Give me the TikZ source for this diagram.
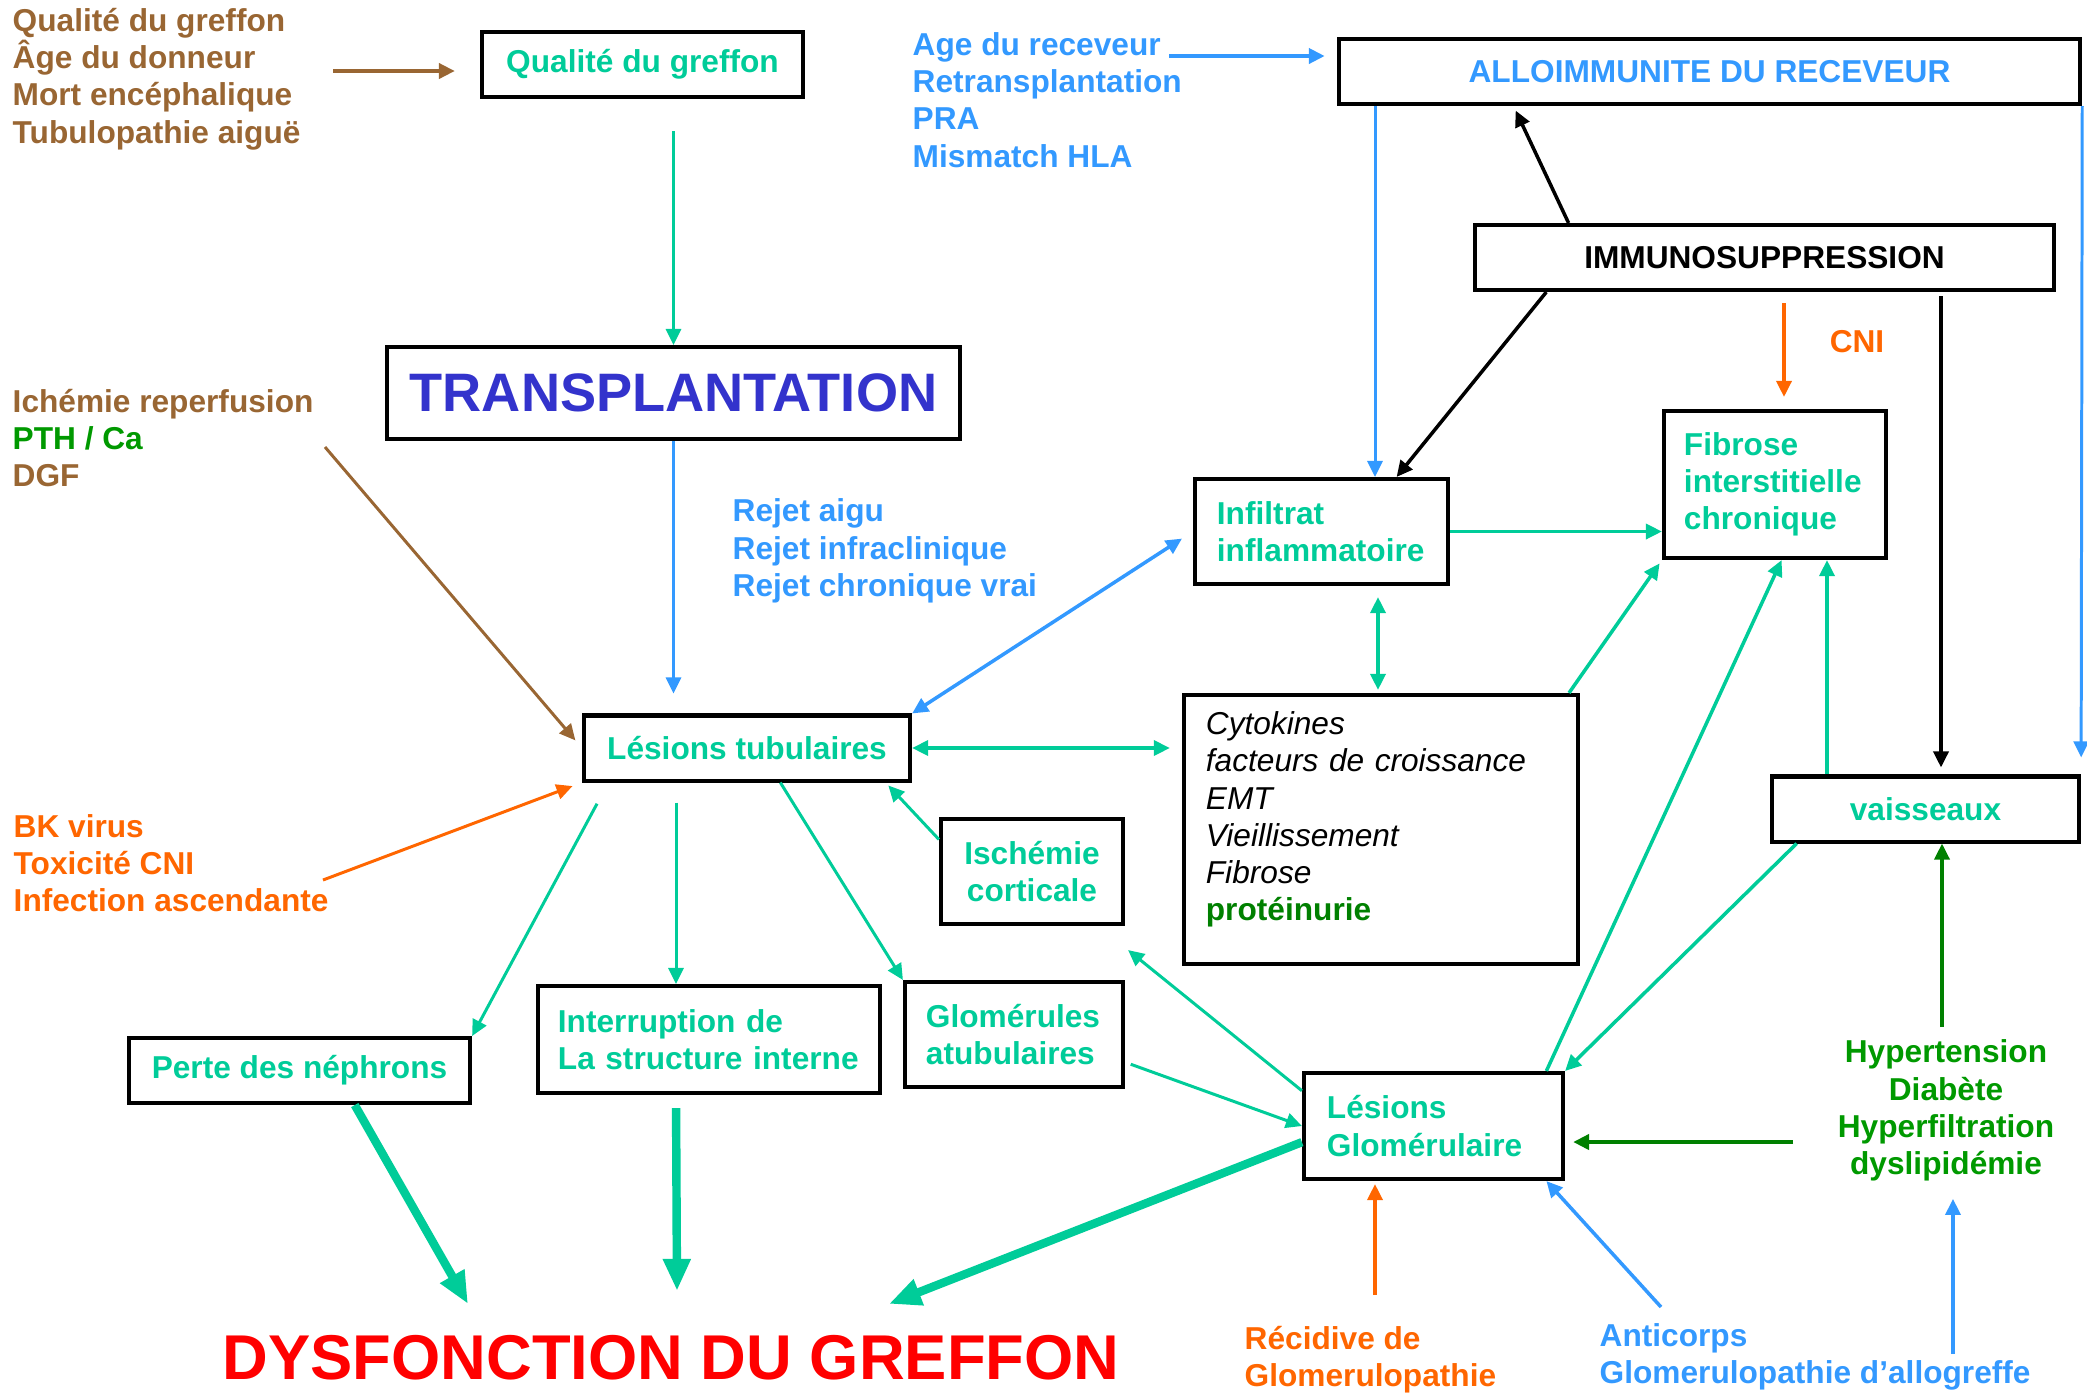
\documentclass[tikz,border=0pt]{standalone}
\usepackage{fontspec}
\setmainfont{Liberation Sans}
\usetikzlibrary{arrows.meta,calc}
\definecolor{turq}{HTML}{00CC99}
\definecolor{brun}{HTML}{996633}
\definecolor{bleu}{HTML}{3399FF}
\definecolor{orng}{HTML}{FF6600}
\definecolor{vert}{HTML}{009900}
\definecolor{vertf}{HTML}{008000}
\definecolor{indigo}{HTML}{3333CC}

\tikzset{
  txt/.style={inner sep=0pt, font=\fontsize{9}{10.6}\selectfont\bfseries},
  boite/.style={txt, draw, line width=1.15pt, minimum height=0.65cm, text=turq},
  gauche/.style={align=left, inner xsep=0.22cm, execute at begin node={\hyphenpenalty=10000}},
  fl/.style={line width=0.85pt, -{Triangle[length=0.16cm,width=0.15cm]}},
  dfl/.style={line width=0.85pt, {Triangle[length=0.16cm,width=0.15cm]}-{Triangle[length=0.16cm,width=0.15cm]}},
  gros/.style={line width=2.4pt, -{Triangle[length=0.32cm,width=0.26cm]}},
}

\begin{document}
\begin{tikzpicture}[x=0.01cm,y=-0.01cm]
\useasboundingbox (0,0) rectangle (2087,1393);

% les boites
\node[boite, minimum width=3.21cm] (qual) at (642.5,64.5) {Qualité du greffon};
\node[boite, minimum width=5.73cm, minimum height=0.92cm, text=indigo,
      font=\fontsize{15.4}{18}\selectfont\bfseries] (trans) at (673.5,393) {TRANSPLANTATION};
\node[boite, minimum width=7.41cm, text=bleu] (allo) at (1709.5,71.5) {ALLOIMMUNITE DU RECEVEUR};
\node[boite, minimum width=5.79cm, text=black] (immuno) at (1764.5,257.5) {IMMUNOSUPPRESSION};
\node[boite, gauche, text width=2.09cm, minimum height=1.05cm] (infil) at (1321.5,531.5) {Infiltrat\\inflammatoire};
\node[boite, gauche, inner xsep=0.2cm, text width=1.82cm, minimum height=1.47cm] (fibr) at (1775,484.5) {Fibrose\\interstitielle\\chronique};
\node[boite, minimum width=3.26cm] (lt) at (747,748) {Lésions tubulaires};
\node[boite, gauche, text width=3.5cm, minimum height=2.69cm, text=black] (cyto) at (1381,829.5)
  {\mdseries\itshape Cytokines\\facteurs de croissance\\EMT\\Vieillissement\\Fibrose\\ \upshape\bfseries\color{vertf}protéinurie\par\vspace{0.2cm}};
\node[boite, minimum width=3.07cm] (vais) at (1925.5,809) {vaisseaux};
\node[boite, align=center, minimum width=1.82cm, minimum height=1.05cm] (isch) at (1032,871.5) {Ischémie\\corticale};
\node[boite, gauche, inner xsep=0.21cm, text width=1.76cm, minimum height=1.05cm] (glat) at (1014,1034.5) {Glomérules\\atubulaires};
\node[boite, gauche, inner xsep=0.2cm, text width=3.02cm, minimum height=1.07cm] (interr) at (709,1039.5) {Interruption de\\La structure interne};
\node[boite, minimum width=3.41cm] (perte) at (299.5,1070.5) {Perte des néphrons};
\node[boite, gauche, inner xsep=0.23cm, text width=2.13cm, minimum height=1.06cm] (lg) at (1433.5,1126) {Lésions\\Glomérulaire};

% les textes libres
\node[txt, text=brun, align=left, anchor=west] (donneur) at (12,79)
  {Qualité du greffon\\Âge du donneur\\Mort encéphalique\\Tubulopathie aiguë};
\node[txt, align=left, anchor=west] (ischemie) at (12,438)
  {{\color{brun}Ichémie reperfusion}\\{\color{vert}PTH / Ca}\\{\color{brun}DGF}};
\node[txt, text=orng, align=left, anchor=west] (virus) at (13,863)
  {BK virus\\Toxicité CNI\\Infection ascendante};
\node[txt, text=bleu, align=left, anchor=west] (rejet) at (732,551)
  {Rejet aigu\\Rejet infraclinique\\Rejet chronique vrai};
\node[txt, text=bleu, align=left, anchor=west] (receveur) at (912,100)
  {Age du receveur\\Retransplantation\\PRA\\Mismatch HLA};
\node[txt, text=orng] (cni) at (1857,342) {CNI};
\node[txt, text=vert, align=center] (hyper) at (1946,1110.5)
  {Hypertension\\Diabète\\Hyperfiltration\\dyslipidémie};
\node[txt, text=orng, align=left, anchor=west] (recid) at (1244,1360) {Récidive de\\Glomerulopathie};
\node[txt, text=bleu, align=left, anchor=west] (antic) at (1599,1357) {Anticorps\\Glomerulopathie d’allogreffe};
\node[txt, text=red, font=\fontsize{18}{20}\selectfont\bfseries] (dysf) at (671,1358) {DYSFONCTION DU GREFFON};

% reperes
\coordinate (a1) at (333,71);
\coordinate (a4) at (325,447);
\coordinate (a5) at (323,880);
\coordinate (a10) at (1169,56);
\coordinate (xi) at (1375,0);
\coordinate (xv) at (1941,0);
\coordinate (xc) at (1784,0);
\coordinate (xd) at (1378,0);
\coordinate (xf) at (1827,0);
\coordinate (xh) at (1942,0);
\coordinate (xt) at (676,0);
\coordinate (a22) at (1793,1142);
\coordinate (a23) at (1953,1354);
\coordinate (a24) at (1375,1295);
\coordinate (a25) at (1661,1307);

% fleches
\draw[fl, brun, line width=1.1pt] (a1) -- (a1 -| qual.west) [shorten >=0.25cm];
\draw[fl, turq, shorten <=0.32cm] (trans.north |- qual.south) -- (trans.north);
\draw[fl, bleu, shorten >=0.2cm] (trans.south) -- (lt.north -| trans.south);
\draw[fl, brun, shorten >=0.1cm] (a4) -- (lt.west);
\draw[fl, orng, shorten >=0.1cm] (a5) -- (lt.south west);
\draw[dfl, bleu, line width=1pt, shorten >=0.13cm] (lt.north east) -- (infil.west);
\draw[fl, bleu] (allo.south -| xi) -- (infil.north -| xi);
\draw[fl, black, line width=1pt] (immuno.189.3) -- (infil.36);
\draw[fl, black, line width=1pt, shorten >=0.05cm] (immuno.170) -- (allo.190);
\draw[fl, bleu, line width=1.2pt, shorten >=0.12cm] (a10) -- (a10 -| allo.west);
\draw[fl, bleu, shorten >=0.17cm] (allo.south east) -- (vais.north east);
\draw[fl, black, line width=1pt, shorten <=0.04cm, shorten >=0.07cm] (immuno.south -| xv) -- (vais.north -| xv);
\draw[fl, orng, line width=1pt, shorten <=0.11cm, shorten >=0.12cm] (immuno.south -| xc) -- (fibr.north -| xc);
\draw[fl, turq, line width=1pt] (infil.east) -- (fibr.west |- infil.east);
\draw[dfl, turq, line width=1pt, shorten <=0.11cm, shorten >=0.03cm] (infil.south -| xd) -- (cyto.north -| xd);
\draw[dfl, turq, line width=1pt, shorten >=0.12cm] (lt.east) -- (cyto.west |- lt.east);
\draw[fl, turq, line width=1pt, shorten >=0.04cm] (cyto.36.3) -- (fibr.south west);
\draw[fl, turq, line width=1pt] (vais.north -| xf) -- (fibr.south -| xf);
\draw[fl, turq, line width=1pt] (lg.26) -- (fibr.275);
\draw[fl, turq, line width=1pt] (vais.195.6) -- (lg.north east);
\draw[fl, vertf, line width=1pt, shorten <=0.12cm] (hyper.north -| xh) -- (vais.south -| xh);
\draw[fl, vertf, line width=1.3pt, shorten >=0.08cm] (a22) -- (lg.east |- a22);
\draw[fl, bleu, line width=1pt, shorten >=0.17cm] (a23) -- (hyper.south -| a23);
\draw[fl, orng, line width=1pt, shorten >=0.03cm] (a24) -- (lg.south -| a24);
\draw[fl, bleu, line width=1pt] (a25) -- (lg.334.4);
\draw[fl, turq] (lg.165) -- ($(isch.south east)+(3,24)$);
\draw[fl, turq] (glat.346.3) -- (lg.west) [shorten <=0.06cm];
\draw[fl, turq, shorten >=0.04cm] (isch.161) -- (lt.346.5);
\draw[fl, turq] (lt.314) -- (glat.north west);
\draw[fl, turq, shorten <=0.2cm] (lt.south -| xt) -- (interr.north -| xt);
\draw[fl, turq, shorten <=0.24cm] (lt.194.6) -- (perte.north east);
\draw[gros, turq] (perte.328.6) -- ($(dysf.north)+(-203,-31)$);
\draw[gros, turq, shorten <=0.13cm] (interr.south -| xt) -- ($(dysf.north)+(6,-44)$);
\draw[gros, turq] (lg.187) -- ($(dysf.north)+(218,-31)$);
\end{tikzpicture}
\end{document}
